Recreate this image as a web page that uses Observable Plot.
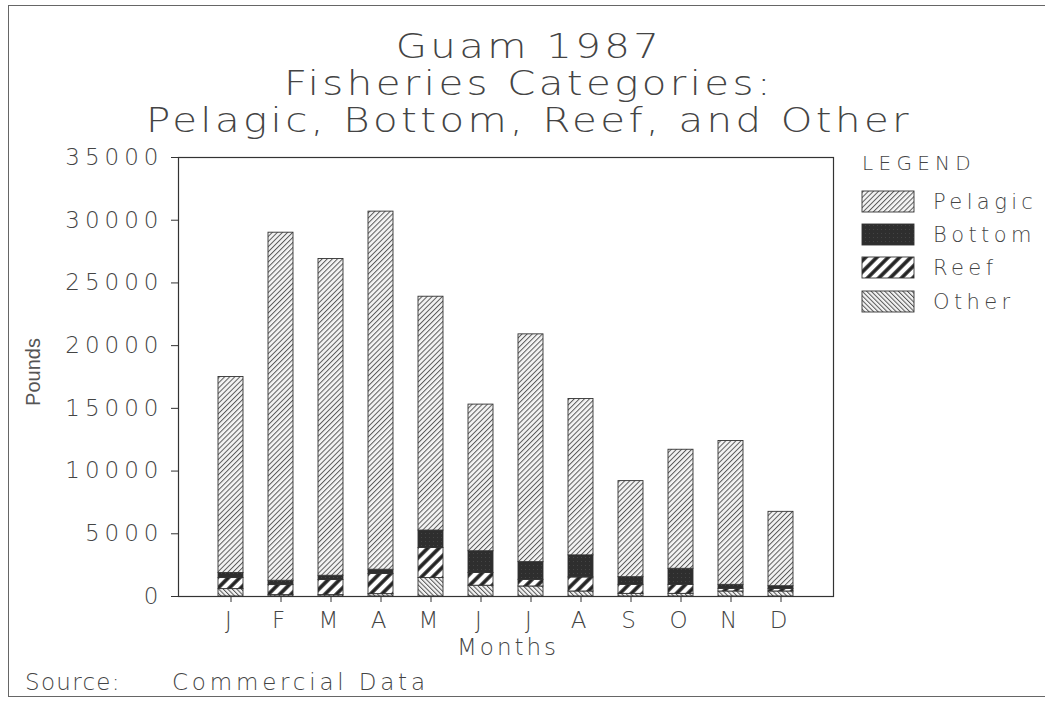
<!DOCTYPE html>
<html><head><meta charset="utf-8">
<script src="https://cdn.jsdelivr.net/npm/d3@7"></script>
<script src="https://cdn.jsdelivr.net/npm/@observablehq/plot@0.6"></script>
<style>
body{margin:0;background:#fff;}
#wrap{position:relative;width:1045px;height:703px;overflow:hidden;font-family:"DejaVu Sans",sans-serif;font-weight:200;color:#444;}
.t{position:absolute;white-space:nowrap;line-height:1;}
.title{left:0;width:1058px;text-align:center;font-size:33px;letter-spacing:2.8px;transform:scaleX(1.22);transform-origin:529px 50%;}
#border{position:absolute;left:8px;top:5px;width:1100px;height:692px;border:1.5px solid #666;box-sizing:border-box;}
#chart svg text{font-family:"DejaVu Sans",sans-serif;font-weight:200;fill:#444;}
#chart{position:absolute;left:0;top:0;}
</style></head><body><div id="wrap">
<div id="border"></div>
<div class="t title" style="top:30px;">Guam 1987</div>
<div class="t title" style="top:67px;">Fisheries Categories:</div>
<div class="t title" style="top:104px;">Pelagic, Bottom, Reef, and Other</div>
<div id="chart"></div>
<div class="t" style="left:457px;top:636px;font-size:23px;letter-spacing:3px;">Months</div>
<div class="t" style="left:33px;top:372px;font-size:20px;font-weight:400;color:#555;font-family:'Liberation Sans Narrow','Liberation Sans',sans-serif;transform:translate(-50%,-50%) rotate(-90deg);">Pounds</div>
<div class="t" style="left:25px;top:671px;font-size:23px;letter-spacing:1.3px;">Source:</div>
<div class="t" style="left:172px;top:671px;font-size:23px;letter-spacing:3.8px;">Commercial Data</div>
<div class="t" style="left:862px;top:153px;font-size:20px;letter-spacing:5.3px;">LEGEND</div>
<div id="legend"></div>
</div>
<script>
const monthKeys = ["Jan","Feb","Mar","Apr","May","Jun","Jul","Aug","Sep","Oct","Nov","Dec"];
const monthLabels = ["J","F","M","A","M","J","J","A","S","O","N","D"];
const categories = ["Pelagic","Bottom","Reef","Other"];
const stackOrder = ["Other","Reef","Bottom","Pelagic"];
const pelagic = [15630, 27750, 25250, 28550, 18640, 11690, 18160, 12470, 7660, 9490, 11470, 5930];
const bottom  = [400, 345, 345, 345, 1390, 1740, 1410, 1760, 610, 1280, 320, 210];
const reef    = [880, 800, 1200, 1600, 2400, 1010, 530, 1120, 720, 720, 210, 210];
const other   = [590, 110, 110, 190, 1470, 860, 800, 400, 210, 210, 400, 400];
const yTicks = [0, 5000, 10000, 15000, 20000, 25000, 30000, 35000];

const seriesMap = {Pelagic: pelagic, Bottom: bottom, Reef: reef, Other: other};
const rows = [];
monthKeys.forEach((m, i) => {
  stackOrder.forEach(c => rows.push({month: m, cat: c, value: seriesMap[c][i]}));
});

function addPatterns(defs, prefix) {
  const p1 = defs.append("pattern").attr("id", prefix + "Pelagic").attr("patternUnits", "userSpaceOnUse")
    .attr("width", 3.6).attr("height", 8).attr("patternTransform", "rotate(45)");
  p1.append("rect").attr("width", 3.6).attr("height", 8).attr("fill", "#f4f4f4");
  p1.append("line").attr("x1", 0.5).attr("x2", 0.5).attr("y1", 0).attr("y2", 8).attr("stroke", "#5a5a5a").attr("stroke-width", 1);
  const p2 = defs.append("pattern").attr("id", prefix + "Other").attr("patternUnits", "userSpaceOnUse")
    .attr("width", 3.2).attr("height", 8).attr("patternTransform", "rotate(-45)");
  p2.append("rect").attr("width", 3.2).attr("height", 8).attr("fill", "#f4f4f4");
  p2.append("line").attr("x1", 0.5).attr("x2", 0.5).attr("y1", 0).attr("y2", 8).attr("stroke", "#555").attr("stroke-width", 1);
  const p3 = defs.append("pattern").attr("id", prefix + "Reef").attr("patternUnits", "userSpaceOnUse")
    .attr("width", 8).attr("height", 8).attr("patternTransform", "rotate(45)");
  p3.append("rect").attr("width", 8).attr("height", 8).attr("fill", "#fff");
  p3.append("line").attr("x1", 2).attr("x2", 2).attr("y1", 0).attr("y2", 8).attr("stroke", "#222").attr("stroke-width", 3.6);
  const p4 = defs.append("pattern").attr("id", prefix + "Bottom").attr("patternUnits", "userSpaceOnUse")
    .attr("width", 4).attr("height", 4);
  p4.append("rect").attr("width", 4).attr("height", 4).attr("fill", "#2e2e2e");
  p4.append("rect").attr("x", 1).attr("y", 1).attr("width", 1).attr("height", 1).attr("fill", "#444");
}

const svg = Plot.plot({
  width: 1045, height: 703,
  marginLeft: 178, marginRight: 212, marginTop: 157, marginBottom: 107,
  style: {background: "transparent", fontSize: "23px", color: "#333", overflow: "visible"},
  x: {domain: monthKeys, padding: 0.5, paddingOuter: 0.775, label: null, tickSize: 6, tickPadding: 9,
      tickFormat: d => monthLabels[monthKeys.indexOf(d)]},
  y: {domain: [0, 35000], ticks: yTicks, label: null, tickSize: 7, tickPadding: 8, tickFormat: d3.format("d")},
  color: {domain: categories, range: categories.map(c => `url(#pat${c})`)},
  marks: [
    Plot.barY(rows, {x: "month", y: "value", fill: "cat", stroke: "#333", strokeWidth: 0.9, order: stackOrder}),
    Plot.frame({stroke: "#333", strokeWidth: 1.2})
  ]
});
addPatterns(d3.select(svg).insert("defs", ":first-child"), "pat");
d3.select(svg).selectAll("g[aria-label='y-axis tick label'] text, g[aria-label='x-axis tick label'] text").attr("letter-spacing", "5");
document.getElementById("chart").appendChild(svg);

// legend
const lg = d3.select("#legend").append("svg").attr("width", 1045).attr("height", 703)
  .style("position", "absolute").style("left", 0).style("top", 0);
addPatterns(lg.append("defs"), "lg");
const legendTops = [191, 224, 257, 291];
categories.forEach((c, i) => {
  lg.append("rect").attr("x", 862).attr("y", legendTops[i]).attr("width", 52).attr("height", 21)
    .attr("fill", `url(#lg${c})`).attr("stroke", "#333").attr("stroke-width", 0.9);
  lg.append("text").attr("x", 933).attr("y", legendTops[i] + 18).text(c)
    .attr("font-family", "DejaVu Sans").attr("font-weight", 200).attr("font-size", 21)
    .attr("letter-spacing", 4.4).attr("fill", "#444");
});
</script>
</body></html>
